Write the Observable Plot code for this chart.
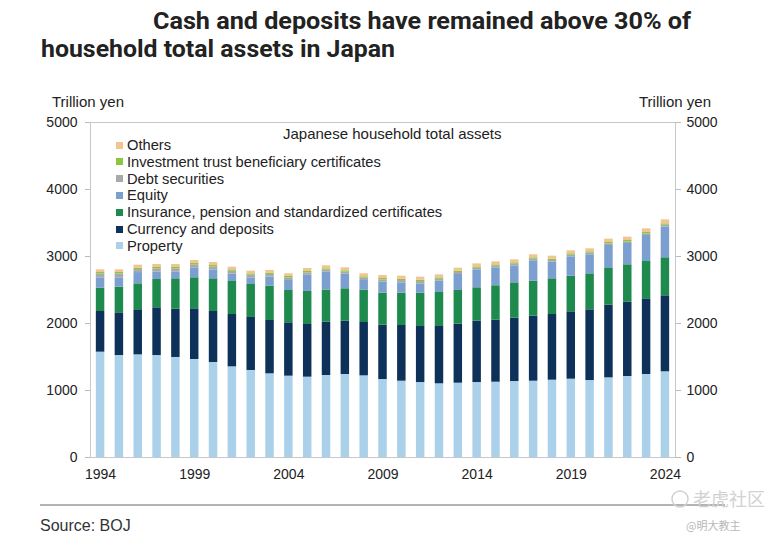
<!DOCTYPE html>
<html><head><meta charset="utf-8">
<script src="https://cdn.jsdelivr.net/npm/d3@7"></script>
<script src="https://cdn.jsdelivr.net/npm/@observablehq/plot@0.6"></script>
<style>
body{margin:0;background:#fff;width:765px;height:544px;position:relative;overflow:hidden;font-family:"Liberation Sans",Arial,sans-serif;color:#222}
#chart{position:absolute;left:0;top:0}
.abs{position:absolute;white-space:nowrap;line-height:1}
#legend .row{position:absolute;left:116px;font-size:14.7px;height:16px;display:flex;align-items:center}
#legend .sw{width:7px;height:7px;margin-right:4px}
</style></head><body>
<div id="chart"></div>
<svg class="abs" style="left:0;top:0" width="765" height="70">
  <text x="153" y="29" textLength="538" lengthAdjust="spacingAndGlyphs" font-family="Roboto, 'Open Sans', sans-serif" font-weight="700" font-size="24" fill="#222">Cash and deposits have remained above 30% of</text>
  <text x="41" y="57" textLength="354" lengthAdjust="spacingAndGlyphs" font-family="Roboto, 'Open Sans', sans-serif" font-weight="700" font-size="24" fill="#222">household total assets in Japan</text>
</svg>
<div class="abs" style="left:52px;top:94px;font-size:15px">Trillion yen</div>
<div class="abs" style="left:639px;top:94px;font-size:15px">Trillion yen</div>
<div class="abs" style="left:283px;top:126px;font-size:15px">Japanese household total assets</div>
<div id="legend"></div>
<svg class="abs" style="left:0;top:480px" width="765" height="64">
  <line x1="40" x2="725" y1="25" y2="25" stroke="#9a9a9a" stroke-width="1.3"/>
  <text x="40" y="51" font-family="'Liberation Sans', Arial, sans-serif" font-size="16" fill="#333">Source: BOJ</text>
  <circle cx="680" cy="19" r="8" fill="none" stroke="#d0d0d0" stroke-width="1.5"/>
  <text x="693" y="26" font-family="'Noto Sans CJK SC', sans-serif" font-size="18" fill="#d2d2d2">老虎社区</text>
  <text x="686" y="50" font-family="'Noto Sans CJK SC', sans-serif" font-size="11" fill="#b8b8b8">@明大教主</text>
</svg>
<script>
const years = [1994,1995,1996,1997,1998,1999,2000,2001,2002,2003,2004,2005,2006,2007,2008,2009,2010,2011,2012,2013,2014,2015,2016,2017,2018,2019,2020,2021,2022,2023,2024];
const categories = ["Property","Currency and deposits","Insurance, pension and standardized certificates","Equity","Debt securities","Investment trust beneficiary certificates","Others"];
const colors = ["#aad0ea","#0d3158","#1f8a4e","#7b9fcf","#a9a9a9","#8cc63f","#f2c48f"];
const property = [1572,1522,1532,1522,1493,1463,1418,1353,1299,1249,1214,1199,1224,1239,1219,1164,1139,1119,1100,1109,1119,1124,1134,1139,1154,1169,1149,1189,1209,1239,1279];
const currency = [607,637,662,712,720,756,761,781,791,796,796,786,795,795,796,811,831,836,855,881,916,926,946,970,980,1005,1055,1084,1109,1129,1134];
const insurance = [348,383,398,423,454,463,488,493,492,512,483,493,479,484,483,478,483,498,508,503,498,513,527,523,533,532,537,548,558,557,568];
const equity = [154,139,168,109,99,148,133,108,99,134,149,248,268,218,144,163,153,138,168,238,267,267,253,303,248,289,284,343,318,388,461];
const debt = [60,60,45,50,50,45,45,45,40,40,40,30,30,30,35,35,35,35,30,30,25,25,25,25,25,25,25,25,25,25,25];
const invest = [20,20,20,20,20,20,20,20,20,20,20,20,20,20,20,20,20,20,20,20,20,20,20,20,20,20,20,20,20,20,20];
const others = [40,40,45,45,45,45,45,40,40,40,40,45,45,45,45,45,45,45,45,45,45,45,45,45,45,45,45,50,50,55,60];
const yTicks = [0,1000,2000,3000,4000,5000];
const xTicks = [1994,1999,2004,2009,2014,2019,2024];

const series = [property,currency,insurance,equity,debt,invest,others];
const rows = [];
years.forEach((yr,i)=>series.forEach((s,k)=>rows.push({year:yr,cat:categories[k],value:s[i]})));

const chart = Plot.plot({
  width:765, height:544,
  marginTop:122, marginBottom:87, marginLeft:90, marginRight:90,
  style:{fontFamily:"'Liberation Sans', Arial, sans-serif", fontSize:"14px", color:"#222", background:"transparent"},
  x:{type:"band", domain:years, paddingInner:0.55, paddingOuter:0.31, align:0.5, round:false},
  y:{domain:[0,5000]},
  color:{domain:categories, range:colors},
  marks:[
    Plot.barY(rows,{x:"year", y:"value", fill:"cat", order:categories}),
    Plot.frame({stroke:"#c8c8c8"}),
    Plot.axisY({anchor:"left", ticks:yTicks, tickSize:5, tickPadding:8, tickFormat:d=>String(d), stroke:"#bbb", fill:"#222", label:null, fontSize:14}),
    Plot.axisY({anchor:"right", ticks:yTicks, tickSize:5, tickPadding:6, tickFormat:d=>String(d), stroke:"#bbb", fill:"#222", label:null, fontSize:14}),
    Plot.axisX({ticks:xTicks, tickSize:0, tickPadding:12, tickFormat:d=>String(d), fill:"#222", label:null, fontSize:14})
  ]
});
document.getElementById("chart").appendChild(chart);

const legend = document.getElementById("legend");
const legendTop = 137;
categories.slice().reverse().forEach((c,i)=>{
  const k = categories.indexOf(c);
  const row = document.createElement("div");
  row.className = "row";
  row.style.top = (legendTop + i*16.8) + "px";
  row.innerHTML = `<span class="sw" style="background:${colors[k]}"></span><span>${c}</span>`;
  legend.appendChild(row);
});
</script>
</body></html>
